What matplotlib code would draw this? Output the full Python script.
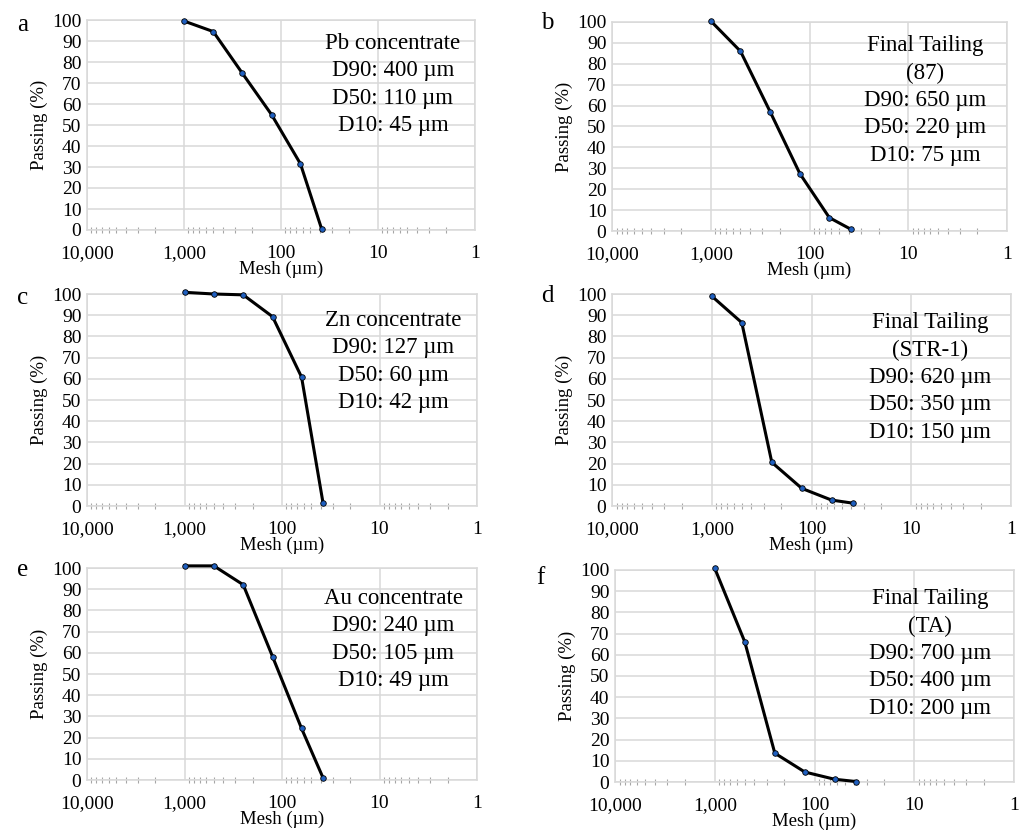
import numpy as np
import matplotlib
matplotlib.use("Agg")
import matplotlib.pyplot as plt
from matplotlib.ticker import FixedLocator, LogLocator, NullFormatter

plt.rcParams['font.family'] = ['Liberation Serif', 'DejaVu Serif']

# sieve openings (um)
mesh = [1000, 500, 250, 125, 63, 38]

pb_conc = [99.5, 94.5, 74.6, 54.9, 31.5, 0.3]
tail_87 = [100.5, 86.0, 57.0, 27.4, 6.4, 0.8]
zn_conc = [100.8, 100.0, 99.6, 89.3, 60.8, 1.6]
tail_str1 = [99.0, 86.5, 20.6, 8.3, 2.8, 1.3]
au_conc = [101.0, 101.0, 92.1, 58.2, 24.3, 1.1]
tail_ta = [100.8, 66.1, 13.6, 4.7, 1.3, 0.2]

series = [pb_conc, tail_87, zn_conc, tail_str1, au_conc, tail_ta]
letters = ['a', 'b', 'c', 'd', 'e', 'f']
notes = [
    "Pb concentrate\nD90: 400 µm\nD50: 110 µm\nD10: 45 µm",
    "Final Tailing\n(87)\nD90: 650 µm\nD50: 220 µm\nD10: 75 µm",
    "Zn concentrate\nD90: 127 µm\nD50: 60 µm\nD10: 42 µm",
    "Final Tailing\n(STR-1)\nD90: 620 µm\nD50: 350 µm\nD10: 150 µm",
    "Au concentrate\nD90: 240 µm\nD50: 105 µm\nD10: 49 µm",
    "Final Tailing\n(TA)\nD90: 700 µm\nD50: 400 µm\nD10: 200 µm",
]

W, H = 1024, 830
fig = plt.figure(figsize=(W / 100, H / 100), dpi=100)

# plot boxes in pixels: left, top, right, bottom
boxes = [(87, 20, 475, 230), (612, 22, 1007, 231),
         (87, 294, 477, 506), (612, 294, 1011, 506),
         (87, 568, 477, 780), (615, 570, 1014, 782)]
letter_pos = [(23, 25), (547, 23), (23, 298), (547, 296), (23, 570), (540, 578)]
note_pos = [(393, 33), (925, 35), (393, 310), (930, 312), (393, 588), (930, 588)]

grid_c = '#d9d9d9'

for i, (l, t, r, b) in enumerate(boxes):
    ax = fig.add_axes([l / W, 1 - b / H, (r - l) / W, (b - t) / H])
    ax.plot(mesh, series[i], color='black', lw=2.2, zorder=3, clip_on=False,
            marker='o', ms=4, mfc='#1f5fbf', mec='black', mew=0.6)
    ax.set_xscale('log')
    ax.set_xlim(10000, 1)
    ax.set_ylim(0, 100)
    ax.set_yticks(np.arange(0, 101, 10))
    ax.xaxis.set_major_locator(FixedLocator([10000, 1000, 100, 10, 1]))
    ax.set_xticklabels(['10,000', '1,000', '100', '10', '1'])
    ax.xaxis.set_minor_locator(LogLocator(base=10, subs=np.arange(2, 10)))
    ax.xaxis.set_minor_formatter(NullFormatter())
    ax.grid(True, which='major', color=grid_c, lw=1.1, zorder=0)
    ax.tick_params(axis='both', which='major', length=0, labelsize=14, pad=4)
    ax.tick_params(axis='x', which='major', pad=11)
    ax.tick_params(axis='x', which='minor', direction='inout', length=4,
                   width=0.8, color='#a6a6a6')
    for s in ax.spines.values():
        s.set_color(grid_c)
        s.set_linewidth(1.1)
    ax.set_xlabel('Mesh (µm)', fontsize=13.5, labelpad=-1)
    ax.set_ylabel('Passing (%)', fontsize=13.5, labelpad=3)

    lx, ly = letter_pos[i]
    fig.text(lx / W, 1 - ly / H, letters[i], fontsize=18, ha='center', va='center')
    nx, ny = note_pos[i]
    fig.text(nx / W, 1 - ny / H, notes[i], fontsize=16.5, ha='center', va='top',
             linespacing=1.4, zorder=5)

fig.savefig('out.png', dpi=100)
